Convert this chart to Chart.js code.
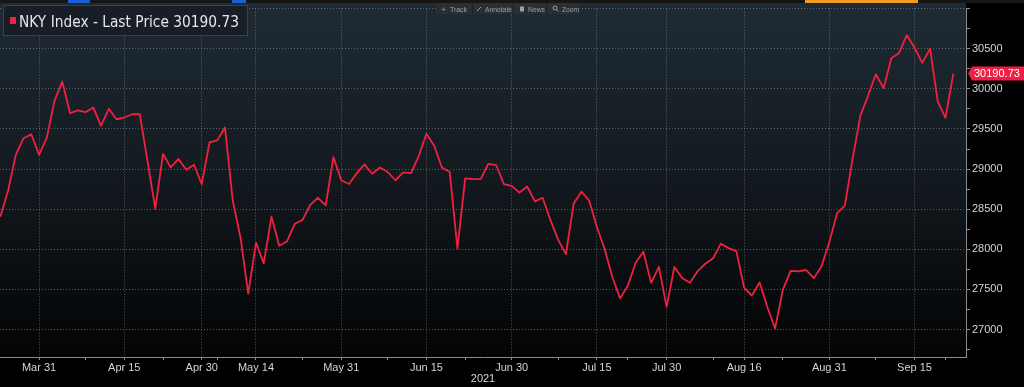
<!DOCTYPE html>
<html>
<head>
<meta charset="utf-8">
<title>NKY Index</title>
<script src="https://cdn.jsdelivr.net/npm/chart.js@4.4.0/dist/chart.umd.min.js"></script>
<style>
  html, body { margin: 0; padding: 0; background: #000; }
  #wrap { width: 1024px; height: 387px; position: relative; }
</style>
</head>
<body>
<div id="wrap"><canvas id="chart" width="1024" height="387"></canvas></div>
<script>
// trading days shown on the chart (2021)
const dates = [
  'Mar 24','Mar 25','Mar 26','Mar 29','Mar 30','Mar 31',
  'Apr 1','Apr 2','Apr 5','Apr 6','Apr 7','Apr 8','Apr 9','Apr 12','Apr 13','Apr 14','Apr 15',
  'Apr 16','Apr 19','Apr 20','Apr 21','Apr 22','Apr 23','Apr 26','Apr 27','Apr 28','Apr 30',
  'May 6','May 7','May 10','May 11','May 12','May 13','May 14','May 17','May 18','May 19',
  'May 20','May 21','May 24','May 25','May 26','May 27','May 28','May 31',
  'Jun 1','Jun 2','Jun 3','Jun 4','Jun 7','Jun 8','Jun 9','Jun 10','Jun 11','Jun 14','Jun 15',
  'Jun 16','Jun 17','Jun 18','Jun 21','Jun 22','Jun 23','Jun 24','Jun 25','Jun 28','Jun 29','Jun 30',
  'Jul 1','Jul 2','Jul 5','Jul 6','Jul 7','Jul 8','Jul 9','Jul 12','Jul 13','Jul 14','Jul 15',
  'Jul 16','Jul 19','Jul 20','Jul 21','Jul 26','Jul 27','Jul 28','Jul 29','Jul 30',
  'Aug 2','Aug 3','Aug 4','Aug 5','Aug 6','Aug 10','Aug 11','Aug 12','Aug 13','Aug 16',
  'Aug 17','Aug 18','Aug 19','Aug 20','Aug 23','Aug 24','Aug 25','Aug 26','Aug 27','Aug 30','Aug 31',
  'Sep 1','Sep 2','Sep 3','Sep 6','Sep 7','Sep 8','Sep 9','Sep 10','Sep 13','Sep 14','Sep 15',
  'Sep 16','Sep 17','Sep 21','Sep 22','Sep 24'
];

const closes = [
  28405.5, 28729.9, 29176.7, 29384.5, 29432.7, 29178.8,
  29388.9, 29854.0, 30089.3, 29696.6, 29730.8, 29709.0, 29768.1, 29538.7, 29751.6, 29621.0, 29642.7,
  29683.4, 29685.4, 29100.4, 28508.6, 29188.2, 29020.6, 29126.2, 28991.9, 29054.0, 28812.6,
  29331.4, 29357.8, 29518.3, 28608.6, 28147.5, 27448.0, 28084.5, 27824.8, 28406.8, 28044.5,
  28098.3, 28317.8, 28364.6, 28554.0, 28642.2, 28549.0, 29149.4, 28860.1,
  28814.3, 28946.1, 29058.1, 28941.5, 29019.2, 28963.6, 28860.8, 28958.6, 28948.7, 29161.8, 29441.3,
  29291.0, 29018.3, 28964.1, 28010.9, 28884.1, 28874.9, 28875.2, 29066.2, 29048.0, 28812.6, 28791.5,
  28707.0, 28783.3, 28598.2, 28643.2, 28367.0, 28118.0, 27940.4, 28569.0, 28718.2, 28608.5, 28279.1,
  28003.1, 27652.7, 27388.2, 27548.0, 27833.3, 27970.2, 27581.7, 27782.4, 27283.6,
  27781.0, 27641.8, 27584.1, 27728.1, 27820.0, 27888.2, 28070.5, 28015.0, 27977.2, 27523.2,
  27424.5, 27585.9, 27281.2, 27013.3, 27494.2, 27732.1, 27724.8, 27742.3, 27641.1, 27789.3, 28089.5,
  28451.0, 28543.5, 29128.1, 29659.9, 29916.1, 30181.2, 30008.2, 30381.8, 30447.4, 30670.1, 30511.7,
  30323.3, 30500.1, 29839.7, 29639.4, 30190.7
];

const lastPrice = 30190.73;

// x axis: labelled dates and the small unlabelled tick marks between them
const majorLabels = ['Mar 31','Apr 15','Apr 30','May 14','May 31','Jun 15','Jun 30','Jul 15','Jul 30','Aug 16','Aug 31','Sep 15'];
const minorLabels = ['Apr 8','Apr 22','May 7','May 24','Jun 8','Jun 22','Jul 8','Jul 21','Aug 10','Aug 23','Sep 8','Sep 22'];

// y axis: labelled values and tick marks
const yLabels = [27000, 27500, 28000, 28500, 29000, 29500, 30000, 30500];
const yTicks = [26750, 27000, 27250, 27500, 27750, 28000, 28250, 28500, 28750, 29000, 29250,
                29500, 29750, 30000, 30250, 30500, 30750, 31000];

const gridCol = 'rgba(150,155,160,0.55)';
const axisCol = '#8c8c8c';
const textCol = '#d4d4d4';
const lineCol = '#f0203f';
const axisFont = { family: '"Liberation Sans", Arial, sans-serif', size: 11 };

const majorIdx = majorLabels.map(d => dates.indexOf(d));
const xTickIdx = majorIdx.concat(minorLabels.map(d => dates.indexOf(d))).sort((a, b) => a - b);

const backdrop = {
  id: 'backdrop',
  beforeDraw(chart) {
    const { ctx, chartArea } = chart;
    ctx.save();
    ctx.fillStyle = '#000';
    ctx.fillRect(0, 0, chart.width, chart.height);
    const g = ctx.createLinearGradient(0, 3, 0, chartArea.bottom);
    g.addColorStop(0, '#1f2b34');
    g.addColorStop(0.45, '#141b21');
    g.addColorStop(1, '#030405');
    ctx.fillStyle = g;
    ctx.fillRect(0, 3, chartArea.right, chartArea.bottom - 3);
    // strip of the window above the chart
    ctx.fillStyle = '#161616';
    ctx.fillRect(0, 0, chart.width, 3);
    ctx.fillStyle = '#1a5fd6';
    ctx.fillRect(68, 0, 22, 3);
    ctx.fillRect(232, 0, 14, 3);
    ctx.fillStyle = '#f29a1c';
    ctx.fillRect(805, 0, 113, 3);
    ctx.restore();
  },
  afterDraw(chart) {
    const { ctx } = chart;
    const ys = chart.scales.y;
    ctx.save();

    // last price tag on the right axis
    const py = ys.getPixelForValue(lastPrice);
    ctx.fillStyle = '#f01e44';
    ctx.beginPath();
    ctx.moveTo(968, py);
    ctx.lineTo(972, py - 7);
    ctx.lineTo(1024, py - 7);
    ctx.lineTo(1024, py + 7);
    ctx.lineTo(972, py + 7);
    ctx.closePath();
    ctx.fill();
    ctx.fillStyle = '#ffffff';
    ctx.font = '11px "Liberation Sans", Arial, sans-serif';
    ctx.textBaseline = 'middle';
    ctx.textAlign = 'left';
    ctx.fillText(lastPrice.toFixed(2), 974, py + 0.5);

    // legend box
    ctx.fillStyle = 'rgba(24,30,36,0.96)';
    ctx.fillRect(3.5, 5.5, 244, 30);
    ctx.strokeStyle = '#3b4249';
    ctx.lineWidth = 1;
    ctx.strokeRect(3.5, 5.5, 244, 30);
    ctx.fillStyle = lineCol;
    ctx.fillRect(10, 17, 6, 7);
    ctx.fillStyle = '#e6e6e6';
    ctx.font = '16px "DejaVu Sans", sans-serif';
    ctx.textBaseline = 'alphabetic';
    ctx.fillText('NKY Index - Last Price ' + lastPrice.toFixed(2), 19, 26.5, 220);

    // chart toolbar
    ctx.fillStyle = '#2b2f34';
    ctx.fillRect(436, 3, 144, 11);
    ctx.fillStyle = '#1b1d20';
    [472, 513, 546].forEach(x => ctx.fillRect(x, 3, 1, 11));
    ctx.fillStyle = '#9aa0a6';
    ctx.font = '8px "Liberation Sans", Arial, sans-serif';
    ctx.fillText('+', 441, 11.5);
    ctx.fillText('Track', 450, 11.5, 17);
    ctx.fillText('Annotate', 485, 11.5, 27);
    ctx.fillText('News', 528, 11.5, 17);
    ctx.fillText('Zoom', 562, 11.5, 17);
    ctx.strokeStyle = '#9aa0a6';
    ctx.beginPath();
    ctx.moveTo(477, 11); ctx.lineTo(481, 7);
    ctx.stroke();
    ctx.fillRect(520, 6.5, 4, 5);
    ctx.beginPath();
    ctx.arc(555, 8, 2, 0, Math.PI * 2);
    ctx.moveTo(556.5, 9.5); ctx.lineTo(558.5, 11.5);
    ctx.stroke();
    ctx.restore();
  }
};

new Chart(document.getElementById('chart'), {
  type: 'line',
  data: {
    datasets: [{
      label: 'NKY Index - Last Price',
      data: closes.map((v, i) => ({ x: i, y: v })),
      borderColor: lineCol,
      borderWidth: 1.8,
      pointRadius: 0,
      tension: 0,
      borderJoinStyle: 'round'
    }]
  },
  options: {
    responsive: false,
    animation: false,
    devicePixelRatio: 1,
    layout: { padding: { top: 5, left: 0, right: 0, bottom: 0 } },
    plugins: { legend: { display: false }, tooltip: { enabled: false } },
    scales: {
      x: {
        type: 'linear',
        min: -0.04,
        max: 124.64,
        afterBuildTicks: s => { s.ticks = xTickIdx.map(v => ({ value: v })); },
        afterFit: s => { s.height = 30; },
        ticks: {
          autoSkip: false,
          maxRotation: 0,
          padding: 1,
          color: textCol,
          font: axisFont,
          callback: v => majorIdx.includes(v) ? dates[v] : ''
        },
        grid: {
          color: c => (c.tick && majorIdx.includes(c.tick.value)) ? gridCol : 'rgba(0,0,0,0)',
          tickColor: axisCol,
          tickLength: 3,
          lineWidth: 1
        },
        border: { color: axisCol, dash: [1, 2] },
        title: {
          display: true,
          text: '2021',
          color: textCol,
          font: axisFont,
          padding: { top: 0, bottom: 1.5 }
        }
      },
      y: {
        position: 'right',
        min: 26658,
        max: 31000,
        afterBuildTicks: s => { s.ticks = yTicks.map(v => ({ value: v })); },
        afterFit: s => { s.width = 58; },
        ticks: {
          padding: 2,
          color: textCol,
          font: axisFont,
          callback: v => yLabels.includes(v) ? String(v) : ''
        },
        grid: {
          color: c => (c.tick && c.tick.value % 500 === 0) ? gridCol : 'rgba(0,0,0,0)',
          tickColor: axisCol,
          tickLength: 4,
          lineWidth: 1
        },
        border: { color: axisCol, dash: [1, 2] }
      }
    }
  },
  plugins: [backdrop]
});
</script>
</body>
</html>
